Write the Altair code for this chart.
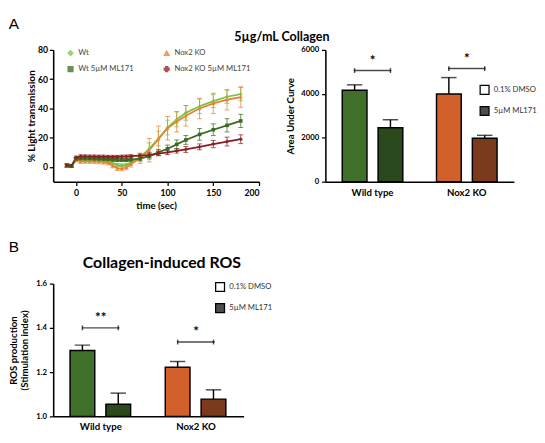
import altair as alt
import pandas as pd

FONT = "Lato"

# ---------------- Panel A (left): aggregation time course ----------------
time_sec = [-10, -5, 0, 5, 10, 15, 20, 25, 30, 35, 40, 45, 50, 55, 60,
            70, 80, 90, 100, 110, 120, 135, 150, 165, 180]
series_names = ["Wt", "Nox2 KO", "Wt 5µM ML171", "Nox2 KO  5µM ML171"]
series_colors = ["#7cc242", "#ee7d31", "#3b6a22", "#8b1c22"]
series_shapes = ["diamond", "triangle-up", "square", "cross"]

wt_mean = [1.0, 0.8, 5.0, 4.5, 4.5, 4.5, 4.5, 4.3, 4.0, 3.5, 2.5, 1.5, 1.2, 1.5, 3.0,
           6.5, 12.5, 19.5, 27.0, 32.5, 37.0, 41.5, 45.0, 48.0, 49.8]
wt_err = [1.0, 1.0, 1.0, 1.0, 1.0, 1.0, 1.0, 1.0, 1.0, 1.0, 1.0, 1.0, 1.0, 1.0, 1.5,
          2.5, 4.0, 5.0, 5.0, 5.0, 5.0, 5.0, 4.5, 4.5, 4.5]
ko_mean = [0.8, 0.6, 5.0, 4.0, 4.0, 4.0, 4.0, 3.8, 3.5, 3.0, 1.0, -0.8, -1.0, -0.3, 2.0,
           6.0, 11.5, 19.0, 26.5, 31.0, 35.0, 40.0, 43.5, 46.0, 47.8]
ko_err = [1.0, 1.0, 1.5, 1.5, 1.5, 1.5, 1.5, 1.5, 1.5, 1.5, 1.5, 1.5, 1.5, 1.5, 2.0,
          3.5, 8.0, 9.0, 8.0, 7.0, 7.0, 7.0, 7.0, 7.0, 7.0]
wt_ml_mean = [1.0, 0.8, 5.5, 5.8, 5.8, 5.8, 5.6, 5.5, 5.4, 5.2, 5.0, 4.8, 4.8, 4.8, 5.0,
              5.8, 7.5, 10.0, 12.5, 15.5, 18.5, 22.3, 25.5, 28.5, 31.5]
wt_ml_err = [1.0, 1.0, 1.0, 1.0, 1.0, 1.0, 1.0, 1.0, 1.0, 1.0, 1.0, 1.0, 1.0, 1.0, 1.0,
             1.5, 2.0, 2.0, 2.5, 3.0, 3.0, 4.0, 4.0, 4.5, 4.5]
ko_ml_mean = [1.2, 0.8, 6.5, 7.3, 7.3, 7.2, 7.2, 7.1, 7.1, 7.0, 7.0, 7.0, 7.1, 7.2, 7.4,
              7.8, 8.2, 9.2, 10.0, 11.0, 12.0, 13.8, 15.7, 17.4, 19.0]
ko_ml_err = [1.0, 1.0, 1.0, 1.0, 1.0, 1.0, 1.0, 1.0, 1.0, 1.0, 1.0, 1.0, 1.0, 1.0, 1.0,
             1.0, 1.5, 1.5, 1.5, 1.5, 2.0, 2.0, 2.5, 3.0, 3.0]

rows = []
for name, means, errs in zip(series_names,
                             [wt_mean, ko_mean, wt_ml_mean, ko_ml_mean],
                             [wt_err, ko_err, wt_ml_err, ko_ml_err]):
    for t, m, e in zip(time_sec, means, errs):
        rows.append({"time": t, "value": m, "lo": m - e, "hi": m + e, "series": name})
df_line = pd.DataFrame(rows)

# ---------------- Panel A (right): area under curve ----------------
genotypes = ["Wild type", "Nox2 KO"]
treatments = ["0.1% DMSO", "5µM ML171"]
bar_keys = ["WT DMSO", "WT ML171", "KO DMSO", "KO ML171"]
bar_colors = ["#3f6f28", "#2a4a1d", "#d2602a", "#7c3a1c"]

auc_genotype = ["Wild type", "Wild type", "Nox2 KO", "Nox2 KO"]
auc_treatment = ["0.1% DMSO", "5µM ML171", "0.1% DMSO", "5µM ML171"]
auc_mean = [4160, 2460, 3990, 1980]
auc_err = [250, 360, 750, 130]
df_auc = pd.DataFrame({"genotype": auc_genotype, "treatment": auc_treatment,
                       "key": bar_keys, "value": auc_mean,
                       "hi": [m + e for m, e in zip(auc_mean, auc_err)]})
auc_sig_y = [5060, 5150]
auc_sig_label = ["*", "*"]
df_auc_sig = pd.DataFrame({"genotype": genotypes, "y": auc_sig_y, "label": auc_sig_label})

# ---------------- Panel B: collagen-induced ROS ----------------
ros_mean = [1.298, 1.055, 1.222, 1.078]
ros_err = [0.024, 0.050, 0.026, 0.042]
df_ros = pd.DataFrame({"genotype": auc_genotype, "treatment": auc_treatment,
                       "key": bar_keys, "value": ros_mean,
                       "hi": [m + e for m, e in zip(ros_mean, ros_err)]})
ros_sig_y = [1.40, 1.336]
ros_sig_label = ["**", "*"]
df_ros_sig = pd.DataFrame({"genotype": genotypes, "y": ros_sig_y, "label": ros_sig_label})

# ======================= charts =======================
axis_common = dict(labelFont=FONT, labelFontWeight="bold", titleFont=FONT,
                   titleFontWeight="bold", domainColor="black", domainWidth=1.6,
                   tickColor="black", tickWidth=1.3, grid=False, labelColor="black",
                   titleColor="black")

color_line = alt.Scale(domain=series_names, range=series_colors)
shape_line = alt.Scale(domain=series_names, range=series_shapes)

x_axis_line = alt.Axis(values=[0, 50, 100, 150, 200], title="time (sec)",
                       labelFontSize=9, titleFontSize=10, tickSize=4, labelPadding=3,
                       titlePadding=4, **axis_common)
y_axis_line = alt.Axis(values=[0, 20, 40, 60, 80], title="% Light transmission",
                       labelFontSize=9, titleFontSize=10.5, tickSize=4, labelPadding=2,
                       titlePadding=1, **axis_common)
x_scale_line = alt.Scale(domain=[-25, 200], nice=False)
y_scale_line = alt.Scale(domain=[-10, 80], nice=False)

def yline(field):
    return alt.Y(f"{field}:Q", scale=y_scale_line, axis=y_axis_line)

line_legend = dict(title=None, orient="none", legendX=14, legendY=-1, columns=2,
                   direction="horizontal", columnPadding=28, rowPadding=5,
                   labelFont=FONT, labelFontSize=8, labelColor="#444",
                   symbolSize=24, symbolStrokeWidth=1.5)
xl = alt.X("time:Q", scale=x_scale_line, axis=x_axis_line)
color_enc = alt.Color("series:N", scale=color_line, legend=alt.Legend(**line_legend))
shape_enc = alt.Shape("series:N", scale=shape_line, legend=alt.Legend(**line_legend))

base_line = alt.Chart(df_line)
err_rule = base_line.mark_rule(strokeWidth=1, opacity=0.75).encode(
    x=xl, y=yline("lo"), y2="hi:Q", color=color_enc)
err_cap_hi = base_line.mark_tick(orient="horizontal", size=5, thickness=1, opacity=0.75).encode(
    x=xl, y=yline("hi"), color=color_enc)
err_cap_lo = base_line.mark_tick(orient="horizontal", size=5, thickness=1, opacity=0.75).encode(
    x=xl, y=yline("lo"), color=color_enc)
lines = base_line.mark_line(strokeWidth=1.8).encode(
    x=xl, y=yline("value"), color=color_enc, order="time:Q")
points = base_line.mark_point(filled=True, size=14, opacity=1).encode(
    x=xl, y=yline("value"), color=color_enc, shape=shape_enc)

line_chart = alt.layer(err_rule, err_cap_hi, err_cap_lo, lines, points).properties(
    width=214, height=137)

# ---- bar chart helper ----
def bar_panel(df, df_sig, ymin, ymax, yvals, ytitle, width, height, cap_size,
              legend_x, legend_y, ylab_size, ytitle_size, label_fmt, title=None):
    xb = alt.X("genotype:N", sort=genotypes, scale=alt.Scale(paddingInner=0, paddingOuter=0),
               axis=alt.Axis(title=None, labelAngle=0, ticks=False, labelFontSize=10,
                             labelPadding=6, **axis_common))
    xo = alt.XOffset("treatment:N", sort=treatments,
                     scale=alt.Scale(paddingInner=0.31, paddingOuter=0.47))
    yb = alt.Y("value:Q", scale=alt.Scale(domain=[ymin, ymax], nice=False, zero=False),
               axis=alt.Axis(values=yvals, title=ytitle, labelFontSize=ylab_size,
                             titleFontSize=ytitle_size, tickSize=4, labelPadding=3,
                             titlePadding=6, format=label_fmt, **axis_common))
    base = alt.Chart(df)
    bars = base.mark_bar(stroke="black", strokeWidth=1.5).encode(
        x=xb, xOffset=xo, y=yb, y2=alt.datum(ymin),
        color=alt.Color("key:N", scale=alt.Scale(domain=bar_keys, range=bar_colors),
                        legend=None))
    erule = base.mark_rule(color="black", strokeWidth=1.5).encode(
        x=xb, xOffset=xo, y="value:Q", y2="hi:Q")
    ecap = base.mark_tick(orient="horizontal", color="black", size=cap_size, thickness=1.5).encode(
        x=xb, xOffset=xo, y="hi:Q")
    leg = base.mark_square(opacity=0).encode(
        x=xb, xOffset=xo, y="value:Q",
        fill=alt.Fill("treatment:N", sort=treatments,
                      scale=alt.Scale(domain=treatments, range=["white", "#4d4d4d"]),
                      legend=alt.Legend(title=None, orient="none", legendX=legend_x,
                                        legendY=legend_y, symbolType="square",
                                        symbolSize=85, symbolStrokeColor="black",
                                        symbolStrokeWidth=1.3, symbolOpacity=1,
                                        labelFont=FONT, labelFontSize=8, labelColor="#333",
                                        rowPadding=7)))
    sbase = alt.Chart(df_sig)
    sline = sbase.mark_tick(orient="horizontal", color="black", size=39, thickness=1.5).encode(
        x=xb, y="y:Q")
    sdf_ends = sbase.transform_calculate(t0="'0.1% DMSO'", t1="'5µM ML171'").transform_fold(
        ["t0", "t1"], as_=["k", "treatment"])
    sends = sdf_ends.mark_tick(orient="vertical", color="black", size=5, thickness=1.5).encode(
        x=xb, xOffset=xo, y="y:Q")
    stext = sbase.mark_text(color="black", fontSize=14, font=FONT, fontWeight="bold",
                            dy=-3, baseline="bottom").encode(x=xb, y="y:Q", text="label:N")
    ch = alt.layer(bars, erule, ecap, leg, sline, sends, stext).properties(
        width=width, height=height)
    if title is not None:
        ch = ch.properties(title=title)
    return ch

bar_a = bar_panel(df_auc, df_auc_sig, 0, 6000, [0, 2000, 4000, 6000], "Area Under Curve",
                  196, 137, 16, 160, 36, 8, 10, "d")

bar_b = bar_panel(df_ros, df_ros_sig, 1.0, 1.6, [1.0, 1.2, 1.4, 1.6],
                  ["ROS production", "(Stimulation index)"], 198, 138, 16, 168, -2, 8, 10,
                  ".1f",
                  title=alt.TitleParams("Collagen-induced ROS", font=FONT, fontSize=16.5,
                                        fontWeight="bold", color="black", frame="group",
                                        anchor="middle", offset=9, dx=14))

indep_scales = dict(color="independent", fill="independent", shape="independent")
indep_legends = dict(color="independent", fill="independent", shape="independent")

row1 = alt.hconcat(line_chart, bar_a, spacing=26).properties(
    title=alt.TitleParams("5µg/mL Collagen", font=FONT, fontSize=13, fontWeight="bold",
                          color="black", anchor="middle", offset=2)
).resolve_scale(**indep_scales).resolve_legend(**indep_legends)
row2 = alt.vconcat(bar_b).properties(
    title=alt.TitleParams("B", font="Liberation Sans", fontSize=16, fontWeight="normal",
                          color="black", anchor="start", offset=0)
).resolve_scale(**indep_scales).resolve_legend(**indep_legends)

chart = alt.concat(row1, row2, columns=1, spacing=30, align="none").properties(
    title=alt.TitleParams("A", font="Liberation Sans", fontSize=16, fontWeight="normal",
                          color="black", anchor="start", offset=0),
    padding=0
).configure_view(stroke=None).resolve_scale(**indep_scales).resolve_legend(**indep_legends)

chart.save("out.html", embed_options={"renderer": "svg", "actions": False})
